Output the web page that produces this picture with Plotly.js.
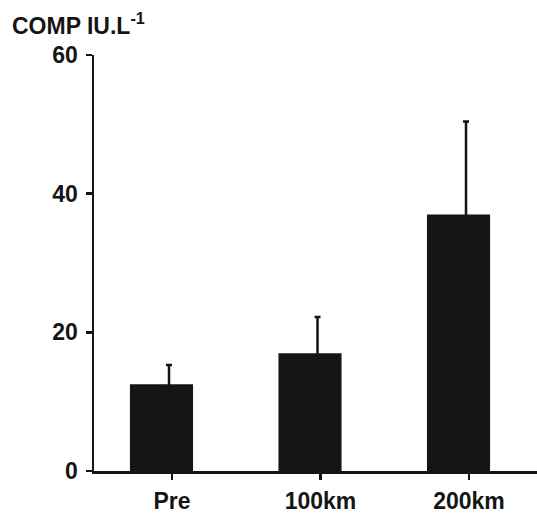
<!DOCTYPE html>
<html>
<head>
<meta charset="utf-8">
<script src="https://cdn.plot.ly/plotly-3.0.1.min.js"></script>
<style>html,body{margin:0;padding:0;background:#fff;}#chart{width:537px;height:514px;}</style>
</head>
<body>
<div id="chart"></div>
<script>
const categories = ["Pre", "100km", "200km"];
const means = [12.5, 17.0, 37.0];
const errors = [2.8, 5.2, 13.4];
const yTicks = [0, 20, 40, 60];

const xPos = categories.map((c, i) => i);
const ink = "#151515";
const font = {family: "Liberation Sans, Arial, sans-serif", size: 23, color: ink, weight: "bold"};

const bars = {
  type: "bar",
  x: xPos,
  y: means,
  width: 0.425,
  offset: -0.283,
  marker: {color: ink, line: {width: 0}},
  hoverinfo: "skip",
  showlegend: false
};
const errs = {
  type: "scatter",
  mode: "markers",
  x: xPos.map(v => v - 0.02),
  y: means,
  marker: {size: 0.1, color: ink},
  error_y: {type: "data", array: errors, symmetric: true, color: ink, thickness: 2.5, width: 3},
  hoverinfo: "skip",
  showlegend: false
};

const layout = {
  width: 537, height: 514,
  margin: {l: 94, r: 0, t: 55, b: 43, pad: 0},
  paper_bgcolor: "#fff", plot_bgcolor: "#fff",
  font: font,
  showlegend: false,
  xaxis: {
    range: [-0.525, 2.458],
    tickvals: xPos, ticktext: categories,
    showline: true, linecolor: ink, linewidth: 2.5,
    ticks: "outside", ticklen: 6, tickwidth: 2.5, tickcolor: ink,
    ticklabelstandoff: 2,
    showgrid: false, zeroline: false, fixedrange: true,
    tickfont: font
  },
  yaxis: {
    range: [0, 60],
    tickvals: yTicks, ticktext: yTicks.map(String),
    showline: true, linecolor: ink, linewidth: 2.5,
    ticks: "outside", ticklen: 6, tickwidth: 2.5, tickcolor: ink,
    ticklabelstandoff: 3,
    showgrid: false, zeroline: false, fixedrange: true,
    tickfont: font
  },
  annotations: [{
    text: "COMP IU.L<sup>-1</sup>",
    xref: "paper", yref: "paper",
    x: -0.19, y: 1.075, xanchor: "left", yanchor: "middle",
    showarrow: false, font: font
  }]
};

Plotly.newPlot("chart", [bars, errs], layout, {staticPlot: true, displayModeBar: false});
</script>
</body>
</html>
